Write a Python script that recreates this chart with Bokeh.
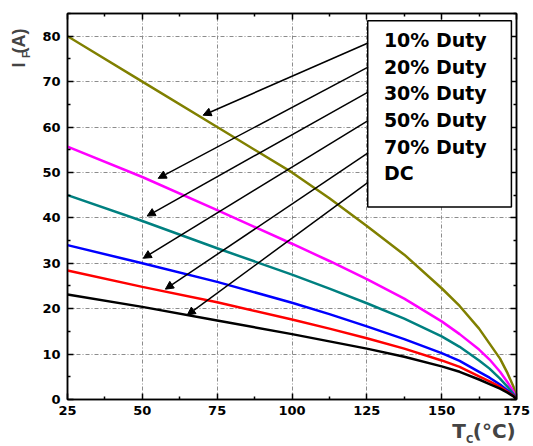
import numpy as np
from bokeh.plotting import figure
from bokeh.models import (LinearAxis, FixedTicker, Range1d, BoxAnnotation, Label,
                          Arrow, NormalHead, ColumnDataSource)
from bokeh.embed import file_html
from bokeh.resources import INLINE

# ---------------- data ----------------
temps = [25, 50, 75, 100, 112.5, 125, 137.5, 150, 156, 162.5, 166, 169.5, 172, 174, 175]
duty10 = [80.0, 70.0, 60.0, 50.0, 44.3, 38.2, 31.9, 24.5, 20.6, 15.6, 12.3, 9.0, 5.8, 2.8, 0.0]
duty20 = [55.7, 49.0, 41.7, 34.3, 30.5, 26.5, 22.2, 17.2, 14.4, 11.0, 8.8, 6.1, 3.8, 1.7, 0.0]
duty30 = [45.0, 39.3, 33.3, 27.5, 24.4, 21.2, 17.8, 13.9, 11.6, 8.6, 6.8, 4.6, 2.8, 1.2, 0.0]
duty50 = [34.0, 30.0, 25.9, 21.3, 18.8, 16.1, 13.3, 10.2, 8.5, 6.1, 4.8, 3.3, 2.0, 0.9, 0.0]
duty70 = [28.4, 24.8, 21.4, 17.6, 15.6, 13.5, 11.2, 8.6, 7.2, 5.1, 4.0, 2.8, 1.7, 0.8, 0.0]
dc = [23.1, 20.4, 17.4, 14.4, 12.8, 11.2, 9.4, 7.3, 6.1, 4.4, 3.4, 2.4, 1.5, 0.7, 0.0]
series_names = ["10% Duty", "20% Duty", "30% Duty", "50% Duty", "70% Duty", "DC"]
x_ticks = [25, 50, 75, 100, 125, 150, 175]
y_ticks = [0, 10, 20, 30, 40, 50, 60, 70, 80]

# ---------------- styling / annotation placement ----------------
series = [duty10, duty20, duty30, duty50, duty70, dc]
colors = ["#808000", "#ff00ff", "#008080", "#0000ff", "#ff0000", "#000000"]

FONT = "DejaVu Sans"

p = figure(width=533, height=446, x_range=Range1d(25, 175), y_range=Range1d(0, 85),
           output_backend="svg", toolbar_location=None,
           min_border_left=67, min_border_right=17, min_border_top=13, min_border_bottom=47)

x_minor = [(a + b) / 2 for a, b in zip(x_ticks[:-1], x_ticks[1:])]
y_minor = [v + 5 for v in y_ticks]
xt = FixedTicker(ticks=x_ticks, minor_ticks=x_minor)
yt = FixedTicker(ticks=y_ticks, minor_ticks=y_minor)

def style_axis(ax, labels=True):
    ax.axis_line_color = "black"
    ax.axis_line_width = 1.5
    ax.major_tick_in = 6
    ax.major_tick_out = 0
    ax.minor_tick_in = 3
    ax.minor_tick_out = 0
    ax.major_tick_line_color = "black"
    ax.minor_tick_line_color = "black"
    ax.major_tick_line_width = 1.5
    ax.minor_tick_line_width = 1.5
    if labels:
        ax.major_label_text_font = FONT
        ax.major_label_text_font_style = "bold"
        ax.major_label_text_font_size = "13px"
        ax.major_label_text_color = "black"
    else:
        ax.major_label_text_font_size = "1px"
        ax.major_label_text_color = None
        ax.major_label_standoff = 0

p.xaxis.ticker = xt
p.yaxis.ticker = yt
style_axis(p.xaxis[0])
style_axis(p.yaxis[0])
p.xaxis.major_label_standoff = 6
p.yaxis.major_label_standoff = 7

top_ax = LinearAxis(ticker=xt)
style_axis(top_ax, labels=False)
p.add_layout(top_ax, "above")
right_ax = LinearAxis(ticker=yt)
style_axis(right_ax, labels=False)
p.add_layout(right_ax, "right")

p.xgrid.ticker = xt
p.ygrid.ticker = yt
for g in (p.xgrid[0], p.ygrid[0]):
    g.grid_line_color = "#8c8c8c"
    g.grid_line_dash = "4 2 1 2"
    g.grid_line_width = 1

p.outline_line_color = "black"
p.outline_line_width = 1.5
p.background_fill_color = "white"
p.border_fill_color = "white"

for ys, c in zip(series, colors):
    p.line(temps, ys, line_color=c, line_width=2.5)

# legend-like box with labels
p.add_layout(BoxAnnotation(left=125.3, right=173.3, bottom=42.4, top=83.4,
                           fill_color="white", fill_alpha=1.0,
                           line_color="black", line_width=1.5, line_alpha=1.0))
label_y = [79.1, 73.3, 67.4, 61.5, 55.7, 49.8]
for name, ly in zip(series_names, label_y):
    p.add_layout(Label(x=130.7, y=ly, text=name, text_font=FONT, text_font_style="bold",
                       text_font_size="19px", text_color="black",
                       text_align="left", text_baseline="alphabetic"))

# arrows from the box to the curves
arrows = ColumnDataSource(dict(
    xs=[125.4] * 6,
    ys=[78.5, 73.2, 67.7, 61.4, 54.3, 47.8],
    xe=[70.3, 55.3, 51.6, 50.3, 57.7, 65.0],
    ye=[62.6, 48.7, 40.4, 31.1, 24.3, 18.6],
))
p.add_layout(Arrow(source=arrows, x_start="xs", y_start="ys", x_end="xe", y_end="ye",
                   line_color="black", line_width=1.5,
                   end=NormalHead(size=8, fill_color="black", line_color="black", line_width=1)))

# axis titles, placed in side panels (so they are not clipped to the frame),
# positioned with the plot's own scales
YF = "Liberation Sans"
p.add_layout(Label(x=8.8, y=73.1, text="I\u2002(A)", angle=np.pi / 2, text_font=YF,
                   text_font_style="bold", text_font_size="18px",
                   text_align="left", text_baseline="alphabetic"), "left")
p.add_layout(Label(x=11.0, y=75.2, text="F", angle=np.pi / 2, text_font=YF,
                   text_font_style="bold", text_font_size="11px",
                   text_align="left", text_baseline="alphabetic"), "left")

p.add_layout(Label(x=153.5, y=-6.83, text="T (°C)", text_font=FONT, text_font_style="bold",
                   text_font_size="20px", text_align="left", text_baseline="alphabetic"), "below")
p.add_layout(Label(x=158.1, y=-8.9, text="C", text_font=FONT, text_font_style="bold",
                   text_font_size="10px", text_align="left", text_baseline="alphabetic"), "right")

open("out.html", "w").write(file_html(p, INLINE))
